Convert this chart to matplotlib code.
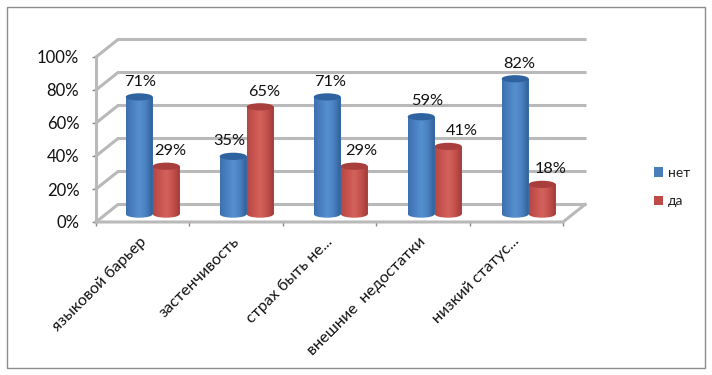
import matplotlib
matplotlib.use('Agg')
import matplotlib.pyplot as plt
import numpy as np
from matplotlib.colors import LinearSegmentedColormap
from matplotlib.patches import Ellipse, Patch, Rectangle
from matplotlib.path import Path
from matplotlib.transforms import Affine2D, ScaledTranslation

plt.rcParams['font.family'] = ['Lato', 'Open Sans', 'DejaVu Sans']

categories = ['языковой барьер', 'застенчивость', 'страх быть не...',
              'внешние  недостатки', 'низкий статус...']
net = [71, 35, 71, 59, 82]
da = [29, 65, 29, 41, 18]
yticks = [0, 20, 40, 60, 80, 100]

# label nudges in points (x, y), the labels do not sit evenly over the bars
net_nudge = [(1, 11), (-3, 11), (2, 11), (4, 11), (3, 11)]
da_nudge = [(3, 11), (3, 11), (5, 11), (10, 11), (6, 11)]

W, H = 712, 375
GRID = '#b9b9b9'
# depth of the fake 3d box, in data units
DX = 0.2355
DY = 10.6
BAR_W = 0.289
BASE = 4.8
SHIFT = 0.107
ELL_H = 4.4
# bars sit on the receding floor so they step slightly wider than the ticks
BAR_STEP = 1.0064

fig = plt.figure(figsize=(W / 100, H / 100), dpi=100)
fig.patches.append(Rectangle((7 / W, 1 - 368 / H), 698 / W, 361 / H, transform=fig.transFigure,
                             fill=False, ec='#8c8c8c', lw=1.0))
ax = fig.add_axes([96 / W, 1 - 222 / H, 467 / W, 165 / H])
ax.set_axis_off()
ax.set_xlim(0, 5)
ax.set_ylim(0, 100)


def cylinder(xc, value, cols, top):
    left = xc - BAR_W / 2
    ax.bar(xc, value, BAR_W, bottom=BASE, color=cols[1], zorder=3)
    ell = Path.unit_circle().transformed(
        Affine2D().scale(BAR_W / 2, ELL_H / 2).translate(xc, BASE))
    rect = Path.unit_rectangle().transformed(
        Affine2D().scale(BAR_W, value).translate(left, BASE))
    cm = LinearSegmentedColormap.from_list('c', cols)
    im = ax.imshow(np.linspace(0, 1, 64).reshape(1, -1), cmap=cm, aspect='auto', zorder=3.5,
                   extent=(left, left + BAR_W, BASE - ELL_H, BASE + value))
    im.set_clip_path(Path.make_compound_path(rect, ell), transform=ax.transData)
    ax.add_patch(Ellipse((xc, BASE + value), BAR_W, ELL_H, fc=top, ec='none', zorder=4))


blue = ['#3d70ad', '#4a80c2', '#5590d0', '#4a80c0', '#2f5f96']
red = ['#b54845', '#c9544f', '#d3625d', '#c4504c', '#9f3c39']

# walls and floor
for v in yticks:
    ax.plot([0, DX, 5 + DX], [v, v + DY, v + DY], color=GRID, lw=2.2, clip_on=False, zorder=1,
            solid_joinstyle='miter')
ax.plot([0, 5, 5 + DX], [0, 0, DY], color=GRID, lw=2.2, clip_on=False, zorder=2)
ax.plot([0, 0], [0, 100], color=GRID, lw=2.2, clip_on=False, zorder=2)

for i in range(len(categories)):
    xc = i * BAR_STEP + 0.5 + SHIFT
    cylinder(xc - BAR_W / 2, net[i], blue, '#2f639f')
    cylinder(xc + BAR_W / 2, da[i], red, '#a83f3c')
    ax.annotate('%d%%' % net[i], (xc - BAR_W / 2, BASE + net[i]), xytext=net_nudge[i],
                textcoords='offset points', ha='center', va='center', fontsize=11.8, color='#111111',
                zorder=6)
    ax.annotate('%d%%' % da[i], (xc + BAR_W / 2, BASE + da[i]), xytext=da_nudge[i],
                textcoords='offset points', ha='center', va='center', fontsize=11.8, color='#111111',
                zorder=6)

ax.set_xlim(0, 5)
ax.set_ylim(0, 100)

ax.set_axis_on()
for s in ax.spines.values():
    s.set_visible(False)
ax.patch.set_visible(False)
ax.set_yticks(yticks)
ax.set_yticklabels(['%d%%' % v for v in yticks], fontsize=12, color='#111111')
ax.tick_params(axis='y', length=3, width=1, color='#888888', pad=9)
ax.set_xticks(range(6))
ax.set_xticklabels([])
ax.tick_params(axis='x', which='major', length=3, width=1, color='#888888')
ax.set_xticks([i + 0.5 for i in range(5)], minor=True)
ax.set_xticklabels(categories, minor=True, rotation=45, ha='right', rotation_mode='anchor',
                   fontsize=11.6, color='#111111')
ax.tick_params(axis='x', which='minor', length=0, pad=9)
# labels end a little left of the category centre
for lab in ax.get_xticklabels(minor=True):
    lab.set_transform(lab.get_transform() + ScaledTranslation(-4 / 100, 0, fig.dpi_scale_trans))

handles = [Patch(fc='#4a7ebb', label='нет'), Patch(fc='#be4b48', label='да')]
fig.legend(handles=handles, loc='center left', bbox_to_anchor=(641 / W, 1 - 187 / H), frameon=False,
           fontsize=10, handlelength=0.7, handleheight=0.7, handletextpad=0.35, labelspacing=1.2,
           labelcolor='#222222')

fig.savefig('out.png', dpi=100)
